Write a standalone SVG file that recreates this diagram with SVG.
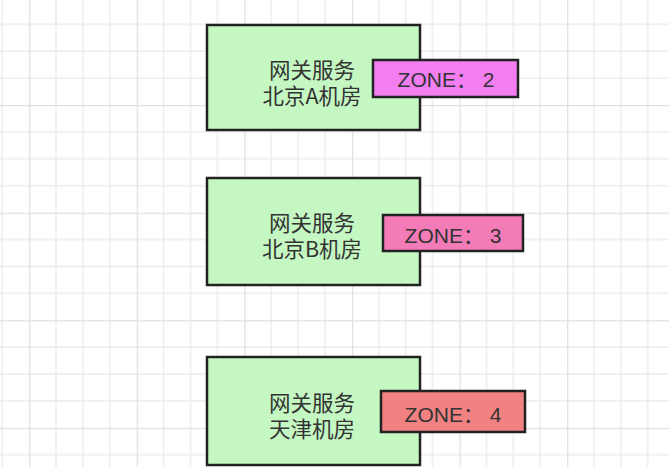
<svg xmlns="http://www.w3.org/2000/svg" width="669" height="467" viewBox="0 0 669 467">
<defs>
<pattern id="grid" patternUnits="userSpaceOnUse" x="29.1" y="105" width="107.6" height="107.6">
<path d="M26.9 0V107.6M53.8 0V107.6M80.7 0V107.6M0 26.9H107.6M0 53.8H107.6M0 80.7H107.6" stroke="#ebebeb" stroke-width="1.4" fill="none"/>
<path d="M0.5 0V107.6M0 0.5H107.6" stroke="#e0e0e0" stroke-width="1.6" fill="none"/>
</pattern>
</defs>
<style>
.box{fill:#c4f7c2;stroke:#222;stroke-width:2.5}
.zone{stroke:#222;stroke-width:2.5}
.cn{font-family:"Noto Sans CJK SC","Liberation Sans",sans-serif;font-size:21.5px;fill:#333;text-anchor:middle}
.zt{font-family:"Liberation Sans","Noto Sans CJK SC",sans-serif;font-size:21px;fill:#333;text-anchor:middle}
</style>
<rect width="669" height="467" fill="#fff"/>
<rect width="669" height="467" fill="url(#grid)"/>
<g id="connectors"/>
<g id="nodeA">
<rect class="box" x="207" y="25" width="213" height="105"/>
<text class="cn"><tspan x="312" y="78">网关服务</tspan><tspan x="312" y="104">北京A机房</tspan></text>
</g>
<g id="zone2">
<rect class="zone" x="373" y="60" width="145" height="37" fill="#f37ef2"/>
<text class="zt" x="446" y="87">ZONE： 2</text>
</g>
<g id="nodeB">
<rect class="box" x="207" y="178" width="213" height="107"/>
<text class="cn"><tspan x="312" y="231">网关服务</tspan><tspan x="312" y="257">北京B机房</tspan></text>
</g>
<g id="zone3">
<rect class="zone" x="383" y="215" width="140" height="36" fill="#f27bb8"/>
<text class="zt" x="453" y="243">ZONE： 3</text>
</g>
<g id="nodeC">
<rect class="box" x="207" y="357" width="213" height="108"/>
<text class="cn"><tspan x="312" y="411">网关服务</tspan><tspan x="312" y="437">天津机房</tspan></text>
</g>
<g id="zone4">
<rect class="zone" x="381" y="391" width="144" height="41" fill="#f28282"/>
<text class="zt" x="453" y="422">ZONE： 4</text>
</g>
</svg>
